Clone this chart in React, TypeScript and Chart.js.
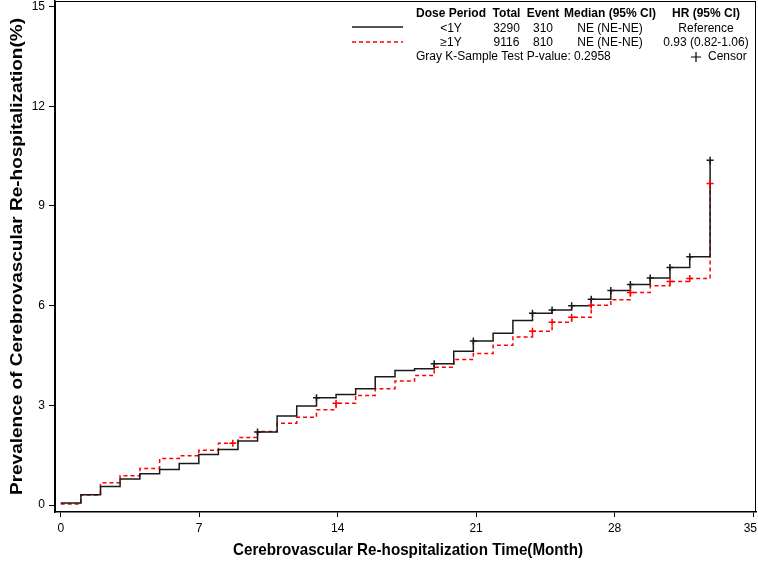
import React, { useEffect, useRef } from "react";
import { Chart, registerables } from "chart.js";

Chart.register(...registerables);

// Step times (months) where the cumulative prevalence changes
const months = [0, 1.02, 2.01, 3.0, 4.0, 5.0, 5.99, 6.98, 7.97, 8.96, 9.95, 10.94, 11.93, 12.93, 13.92, 14.91, 15.9, 16.9, 17.89, 18.88, 19.87, 20.86, 21.86, 22.86, 23.85, 24.84, 25.83, 26.82, 27.81, 28.8, 29.8, 30.8, 31.8, 32.83];

// Dose period <1Y (black solid)
const lt1yRisk = [0.06, 0.31, 0.56, 0.78, 0.94, 1.07, 1.25, 1.52, 1.67, 1.93, 2.2, 2.68, 2.98, 3.23, 3.33, 3.5, 3.86, 4.05, 4.1, 4.25, 4.63, 4.94, 5.17, 5.55, 5.77, 5.87, 6.0, 6.19, 6.46, 6.64, 6.83, 7.15, 7.47, 10.38];

// Dose period >=1Y (red dashed)
const ge1yRisk = [0.03, 0.3, 0.67, 0.88, 1.1, 1.4, 1.48, 1.65, 1.86, 2.03, 2.21, 2.46, 2.64, 2.87, 3.06, 3.3, 3.5, 3.73, 3.9, 4.15, 4.38, 4.56, 4.81, 5.06, 5.23, 5.5, 5.65, 6.01, 6.18, 6.4, 6.6, 6.73, 6.82, 9.68];

// Censor marks
const lt1yCensorMonths = [9.95, 12.93, 18.88, 20.86, 23.85, 24.84, 25.83, 26.82, 27.81, 28.8, 29.8, 30.8, 31.8, 32.83];
const lt1yCensorRisk = [2.2, 3.23, 4.25, 4.94, 5.77, 5.87, 6.0, 6.19, 6.46, 6.64, 6.83, 7.15, 7.47, 10.38];
const ge1yCensorMonths = [8.7, 13.92, 23.85, 24.84, 25.83, 26.82, 28.8, 30.8, 31.8, 32.83];
const ge1yCensorRisk = [1.86, 3.06, 5.23, 5.5, 5.65, 6.01, 6.4, 6.73, 6.82, 9.68];

const xTicks = [0, 7, 14, 21, 28, 35];
const yTicks = [0, 3, 6, 9, 12, 15];

const xTitle = "Cerebrovascular Re-hospitalization Time(Month)";
const yTitle = "Prevalence of Cerebrovascular Re-hospitalization(%)";

const legendHeaders = ["Dose Period", "Total", "Event", "Median (95% CI)", "HR (95% CI)"];
const legendRows = [
  ["<1Y", "3290", "310", "NE (NE-NE)", "Reference"],
  ["\u22651Y", "9116", "810", "NE (NE-NE)", "0.93 (0.82-1.06)"],
];
const testText = "Gray K-Sample Test P-value: 0.2958";
const censorText = "Censor";

const BLACK = "#1a1a1a";
const RED = "#ff0000";
const TEXT_FONT = "'Liberation Sans', Arial, sans-serif";

const framePlugin = {
  id: "frame",
  afterDraw(chart: any) {
    const { ctx, chartArea } = chart;
    ctx.save();
    ctx.strokeStyle = "#000";
    ctx.lineWidth = 1;
    ctx.strokeRect(chartArea.left + 0.5, chartArea.top + 0.5, chartArea.right - chartArea.left - 1, chartArea.bottom - chartArea.top - 1);
    ctx.restore();
  },
};

// Tick labels and axis titles (drawn from the library's scales)
const axisTextPlugin = {
  id: "axisText",
  afterDraw(chart: any) {
    const { ctx, scales, chartArea, width } = chart;
    const xs = scales.x;
    const ys = scales.y;
    ctx.save();
    ctx.fillStyle = "#000";
    ctx.font = `12px ${TEXT_FONT}`;
    ctx.textAlign = "center";
    ctx.textBaseline = "middle";
    xTicks.forEach((v) => {
      const label = String(v);
      const w = ctx.measureText(label).width;
      const px = Math.min(xs.getPixelForValue(v), width - w / 2 - 1);
      ctx.fillText(label, px, chartArea.bottom + 17);
    });
    ctx.textAlign = "right";
    yTicks.forEach((v) => ctx.fillText(String(v), chartArea.left - 10, ys.getPixelForValue(v)));

    // x title, slightly condensed
    ctx.font = `bold 16px ${TEXT_FONT}`;
    ctx.textAlign = "center";
    const xw = ctx.measureText(xTitle).width;
    ctx.save();
    ctx.translate(408, 550);
    ctx.scale(350 / xw, 1.05);
    ctx.fillText(xTitle, 0, 0);
    ctx.restore();

    // y title, rotated and stretched along its length
    const yw = ctx.measureText(yTitle).width;
    ctx.save();
    ctx.translate(18, 256.5);
    ctx.rotate(-Math.PI / 2);
    ctx.scale(477 / yw, 1);
    ctx.fillText(yTitle, 0, 0);
    ctx.restore();
    ctx.restore();
  },
};

const legendPlugin = {
  id: "kmLegend",
  afterDraw(chart: any) {
    const { ctx } = chart;
    const colX = [451, 506.5, 543, 610, 706];
    const rowY = [14, 28.5, 42.5, 57];
    ctx.save();
    ctx.fillStyle = "#000";
    ctx.textBaseline = "middle";
    ctx.textAlign = "center";
    ctx.font = `bold 12px ${TEXT_FONT}`;
    legendHeaders.forEach((h, i) => ctx.fillText(h, colX[i], rowY[0]));
    ctx.font = `12px ${TEXT_FONT}`;
    legendRows.forEach((row, r) => row.forEach((c, i) => ctx.fillText(c, colX[i], rowY[r + 1])));
    ctx.textAlign = "left";
    ctx.fillText(testText, 416, rowY[3]);
    ctx.fillText(censorText, 708, rowY[3]);
    // censor symbol
    ctx.strokeStyle = "#000";
    ctx.lineWidth = 1.2;
    ctx.beginPath();
    ctx.moveTo(691, rowY[3]);
    ctx.lineTo(701, rowY[3]);
    ctx.moveTo(696, rowY[3] - 5);
    ctx.lineTo(696, rowY[3] + 5);
    ctx.stroke();
    // line samples
    ctx.lineWidth = 1.5;
    ctx.strokeStyle = BLACK;
    ctx.beginPath();
    ctx.moveTo(352, 27);
    ctx.lineTo(403, 27);
    ctx.stroke();
    ctx.strokeStyle = RED;
    ctx.setLineDash([4, 3]);
    ctx.beginPath();
    ctx.moveTo(352, 42);
    ctx.lineTo(403, 42);
    ctx.stroke();
    ctx.restore();
  },
};

export default function App() {
  const canvasRef = useRef<HTMLCanvasElement | null>(null);

  useEffect(() => {
    if (!canvasRef.current) return;
    const lt1yLine = months.map((m, i) => ({ x: m, y: lt1yRisk[i] }));
    const ge1yLine = months.map((m, i) => ({ x: m, y: ge1yRisk[i] }));
    const lt1yCens = lt1yCensorMonths.map((m, i) => ({ x: m, y: lt1yCensorRisk[i] }));
    const ge1yCens = ge1yCensorMonths.map((m, i) => ({ x: m, y: ge1yCensorRisk[i] }));

    const chart = new Chart(canvasRef.current, {
      type: "line",
      data: {
        datasets: [
          {
            label: "\u22651Y",
            data: ge1yLine,
            borderColor: RED,
            borderWidth: 1.5,
            borderDash: [4, 3],
            stepped: "before",
            pointRadius: 0,
            fill: false,
            order: 2,
          },
          {
            label: "<1Y",
            data: lt1yLine,
            borderColor: BLACK,
            borderWidth: 1.5,
            stepped: "before",
            pointRadius: 0,
            fill: false,
            order: 1,
          },
          {
            type: "scatter",
            label: "\u22651Y censor",
            data: ge1yCens,
            showLine: false,
            pointStyle: "cross",
            pointRadius: 3.5,
            borderColor: RED,
            backgroundColor: RED,
            pointBorderWidth: 1.5,
            order: 0,
          } as any,
          {
            type: "scatter",
            label: "<1Y censor",
            data: lt1yCens,
            showLine: false,
            pointStyle: "cross",
            pointRadius: 3.5,
            borderColor: BLACK,
            backgroundColor: BLACK,
            pointBorderWidth: 1.5,
            order: 0,
          } as any,
        ],
      },
      options: {
        responsive: false,
        maintainAspectRatio: false,
        animation: false,
        layout: { autoPadding: false, padding: { left: 0, right: 2, top: 1, bottom: 0 } },
        plugins: {
          legend: { display: false },
          tooltip: { enabled: false },
        },
        scales: {
          x: {
            type: "linear",
            min: -0.29,
            max: 35.15,
            afterBuildTicks: (s: any) => {
              s.ticks = xTicks.map((v) => ({ value: v }));
            },
            afterFit: (s: any) => {
              s.height = 51;
              s.paddingLeft = 0;
              s.paddingRight = 0;
            },
            grid: { drawOnChartArea: false, drawTicks: true, tickLength: 5, color: "#000", tickColor: "#000", tickWidth: 1 },
            border: { display: true, color: "#000", width: 1.5 },
            ticks: { display: false },
            title: { display: false },
          },
          y: {
            type: "linear",
            min: -0.21,
            max: 15.17,
            afterBuildTicks: (s: any) => {
              s.ticks = yTicks.map((v) => ({ value: v }));
            },
            afterFit: (s: any) => {
              s.width = 55;
              s.paddingTop = 0;
              s.paddingBottom = 0;
            },
            grid: { drawOnChartArea: false, drawTicks: true, tickLength: 6, color: "#000", tickColor: "#000", tickWidth: 1 },
            border: { display: true, color: "#000", width: 1.5 },
            ticks: { display: false },
            title: { display: false },
          },
        },
      } as any,
      plugins: [framePlugin, axisTextPlugin, legendPlugin],
    });
    return () => chart.destroy();
  }, []);

  return (
    <div style={{ position: "fixed", left: 0, top: 0, width: 758, height: 563, background: "#fff" }}>
      <canvas ref={canvasRef} width={758} height={563} style={{ display: "block" }} />
    </div>
  );
}
